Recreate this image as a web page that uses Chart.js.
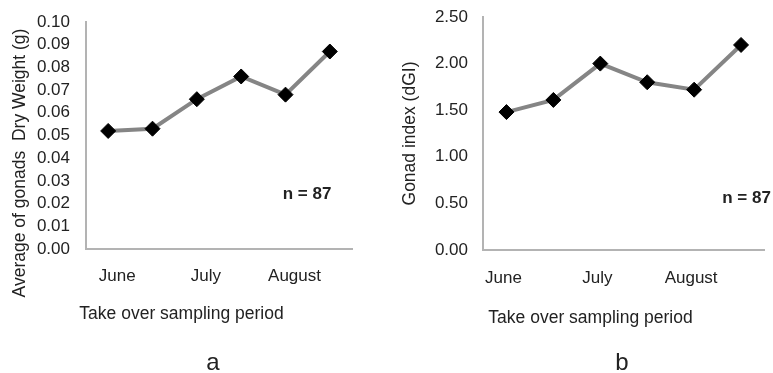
<!DOCTYPE html>
<html><head><meta charset="utf-8">
<script src="https://cdn.jsdelivr.net/npm/chart.js@4.4.1/dist/chart.umd.min.js"></script>
<style>
html,body{margin:0;padding:0;background:#fff;}
#wrap{position:relative;width:773px;height:373px;overflow:hidden;background:#fff;}
.panel{position:absolute;top:0;height:373px;}
#pa{left:0;width:390px;}
#pb{left:390px;width:383px;}
</style></head><body>
<div id="wrap">
  <div class="panel" id="pa"><canvas id="ca"></canvas></div>
  <div class="panel" id="pb"><canvas id="cb"></canvas></div>
</div>
<script>
// ---- data ----
const categories = ['June', '', 'July', '', 'August', ''];
const dryWeight = [0.052, 0.053, 0.066, 0.076, 0.068, 0.087];
const gonadIndex = [1.48, 1.61, 2.00, 1.80, 1.72, 2.20];
const dryWeightAxis = [0, 0.10, 0.01];   // min, max, step
const gonadAxis = [0, 2.50, 0.50];        // min, max, step
const xTitle = 'Take over sampling period';
const yTitleA = 'Average of gonads  Dry Weight (g)';
const yTitleB = 'Gonad index (dGI)';
const nLabel = 'n = 87';

const FONT = "'Liberation Sans', Arial, sans-serif";
const TEXT = '#222';
const AXIS = '#b3b3b3';

const textPlugin = {
  id: 'annot',
  afterDraw(chart, args, opts) {
    const ctx = chart.ctx;
    (opts.texts || []).forEach(t => {
      ctx.save();
      ctx.fillStyle = TEXT;
      ctx.font = t.font;
      ctx.textAlign = 'center';
      ctx.textBaseline = t.baseline || 'alphabetic';
      ctx.translate(t.x - opts.offsetX, t.y);
      if (t.rot) ctx.rotate(t.rot);
      ctx.fillText(t.text, 0, 0);
      ctx.restore();
    });
  }
};

function makeChart(id, values, axis, g) {
  return new Chart(document.getElementById(id), {
    type: 'line',
    data: {
      labels: categories,
      datasets: [{
        data: values,
        borderColor: '#858585',
        borderWidth: 4,
        tension: 0,
        pointStyle: 'rectRot',
        pointRadius: 7.5,
        pointBackgroundColor: '#000',
        pointBorderColor: '#000',
        pointBorderWidth: 1,
        clip: false
      }]
    },
    plugins: [textPlugin],
    options: {
      responsive: true,
      maintainAspectRatio: false,
      animation: false,
      devicePixelRatio: 1,
      layout: { padding: { left: 0, top: g.top, right: g.right, bottom: 0 } },
      plugins: {
        legend: { display: false },
        tooltip: { enabled: false },
        annot: { offsetX: g.offsetX, texts: g.texts }
      },
      scales: {
        x: {
          type: 'category',
          offset: true,
          grid: { display: false, drawTicks: false },
          border: { display: true, color: AXIS, width: 2 },
          ticks: {
            autoSkip: false, maxRotation: 0, minRotation: 0,
            font: { family: FONT, size: 17 }, color: TEXT,
            padding: g.xPad, labelOffset: g.labelOffset
          },
          afterFit(s) { s.height = g.xHeight; s.paddingLeft = 0; s.paddingRight = 0; }
        },
        y: {
          min: axis[0], max: axis[1],
          grid: { display: false, drawTicks: false },
          border: { display: true, color: AXIS, width: 2 },
          ticks: {
            stepSize: axis[2],
            autoSkip: false,
            font: { family: FONT, size: 17 }, color: TEXT,
            padding: g.yPad,
            callback: v => Number(v).toFixed(2)
          },
          afterFit(s) { s.width = g.yWidth; s.paddingTop = 0; s.paddingBottom = 0; }
        }
      }
    }
  });
}

makeChart('ca', dryWeight, dryWeightAxis, {
  offsetX: 0, top: 22, right: 38, xHeight: 124, yWidth: 86, yPad: 16, xPad: 17, labelOffset: 9,
  texts: [
    { text: yTitleA, x: 20, y: 163, rot: -Math.PI / 2, baseline: 'middle', font: '17.5px ' + FONT },
    { text: xTitle, x: 181.5, y: 319.3, font: '17.5px ' + FONT },
    { text: nLabel, x: 307, y: 199.3, font: 'bold 17px ' + FONT },
    { text: 'a', x: 213, y: 370, font: '24px ' + FONT }
  ]
});

makeChart('cb', gonadIndex, gonadAxis, {
  offsetX: 390, top: 17, right: 2, xHeight: 123, yWidth: 93, yPad: 15, xPad: 18, labelOffset: -3,
  texts: [
    { text: yTitleB, x: 410, y: 133.5, rot: -Math.PI / 2, baseline: 'middle', font: '17.5px ' + FONT },
    { text: xTitle, x: 590.5, y: 322.7, font: '17.5px ' + FONT },
    { text: nLabel, x: 746.5, y: 203.3, font: 'bold 17px ' + FONT },
    { text: 'b', x: 622, y: 370, font: '24px ' + FONT }
  ]
});
</script>
</body></html>
